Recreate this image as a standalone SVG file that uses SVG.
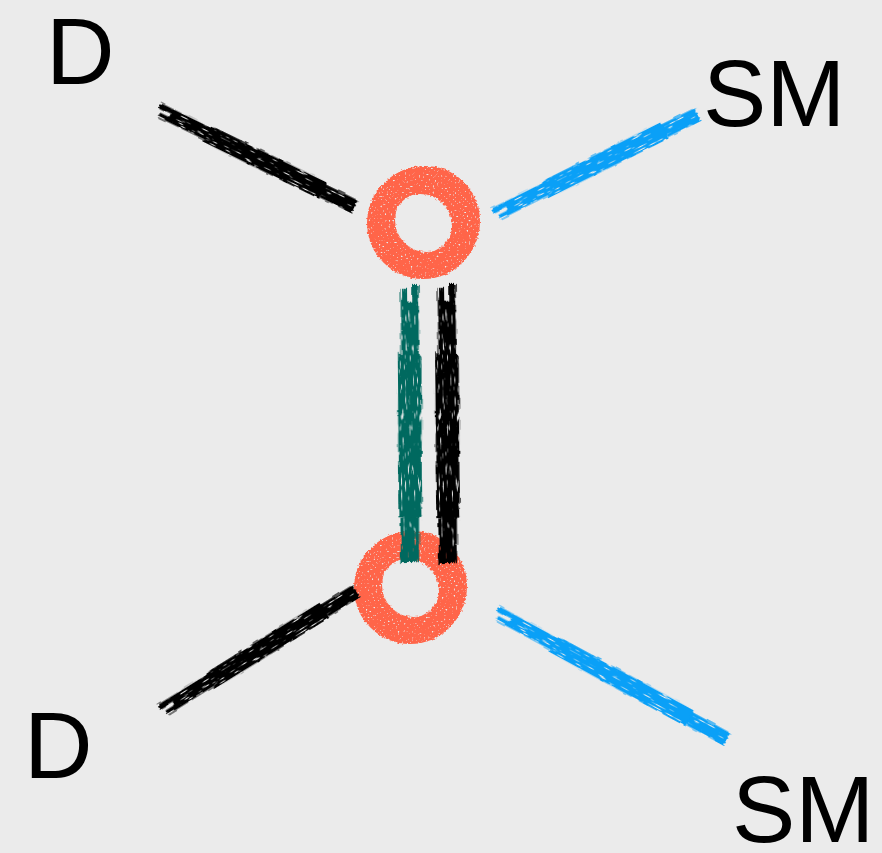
<svg xmlns="http://www.w3.org/2000/svg" xmlns:xlink="http://www.w3.org/1999/xlink" width="882" height="853" viewBox="0 0 882 853">
  <style>
    .label { font-family: "Liberation Sans", Arial, sans-serif; font-size: 95px; fill: #000; }
    .blk { color: #000; }
    .sm { color: #0aa0f7; }
    .teal { color: #00695f; }
  </style>
  <defs>
    <!-- grainy dry-brush texture for straight strokes (noise is stretched along the stroke) -->
    <filter id="grain" x="-10%" y="-250%" width="120%" height="600%" color-interpolation-filters="sRGB">
      <feTurbulence type="fractalNoise" baseFrequency="0.2 0.7" numOctaves="2" seed="4" result="noise"/>
      <feDisplacementMap in="SourceGraphic" in2="noise" scale="3" xChannelSelector="R" yChannelSelector="G" result="rough"/>
      <feColorMatrix in="noise" type="matrix" values="0 0 0 0 0  0 0 0 0 0  0 0 0 0 0  7 0 0 0 -1.6" result="mask"/>
      <feComposite in="rough" in2="mask" operator="in"/>
    </filter>
    <!-- grainy texture for the rings -->
    <filter id="grainRing" x="-20%" y="-20%" width="140%" height="140%" color-interpolation-filters="sRGB">
      <feTurbulence type="fractalNoise" baseFrequency="0.5" numOctaves="2" seed="9" result="noise"/>
      <feDisplacementMap in="SourceGraphic" in2="noise" scale="4" xChannelSelector="R" yChannelSelector="G" result="rough"/>
      <feColorMatrix in="noise" type="matrix" values="0 0 0 0 0  0 0 0 0 0  0 0 0 0 0  7 0 0 0 -1.5" result="mask"/>
      <feComposite in="rough" in2="mask" operator="in"/>
    </filter>
    <!-- one brush stroke, 100 units long along +x, centred on y=0 -->
    <g id="brush" fill="none" stroke="currentColor">
      <path d="M0,-5 L100,-3" stroke-width="5"/>
      <path d="M1,4 L100,4" stroke-width="5"/>
      <path d="M6,-1 L100,1" stroke-width="11"/>
      <path d="M25,0 L84,1" stroke-width="18"/>
      <path d="M84,2 L100,2" stroke-width="13"/>
    </g>
    <!-- a hand-drawn ring, centred on 0,0 -->
    <g id="ring" fill="none" stroke="#ff6549">
      <circle cx="0" cy="1" r="43" stroke-width="26"/>
      <circle cx="2" cy="-1" r="49" stroke-width="12"/>
      <circle cx="-3" cy="4" r="38" stroke-width="12"/>
      <circle cx="4" cy="-2" r="35" stroke-width="6"/>
    </g>
  </defs>

  <rect width="882" height="853" fill="#ebebeb"/>

  <g id="node-top">
    <use xlink:href="#ring" href="#ring" x="423" y="222" filter="url(#grainRing)"/>
  </g>
  <g id="node-bottom">
    <use xlink:href="#ring" href="#ring" x="410" y="587" filter="url(#grainRing)"/>
  </g>

  <g id="connectors">
    <use id="d-top" class="blk" xlink:href="#brush" href="#brush" filter="url(#grain)" transform="translate(158,110) rotate(25.75) scale(2.19,1)"/>
    <use id="sm-top" class="sm" xlink:href="#brush" href="#brush" filter="url(#grain)" transform="translate(495,215) rotate(-26.8) scale(2.26,1)"/>
    <use id="d-bottom" class="blk" xlink:href="#brush" href="#brush" filter="url(#grain)" transform="translate(162,711) rotate(-32.1) scale(2.28,1)"/>
    <use id="sm-bottom" class="sm" xlink:href="#brush" href="#brush" filter="url(#grain)" transform="translate(496,613) rotate(28.3) scale(2.63,1)"/>
    <use id="link-teal" class="teal" xlink:href="#brush" href="#brush" filter="url(#grain)" transform="translate(409,285) rotate(89.4) scale(2.77,1.3)"/>
    <use id="link-black" class="blk" xlink:href="#brush" href="#brush" filter="url(#grain)" transform="translate(446,284) rotate(89.2) scale(2.79,1.3)"/>
  </g>

  <g id="labels">
    <text class="label" x="46" y="84">D</text>
    <text class="label" x="703" y="126">SM</text>
    <text class="label" x="24" y="778">D</text>
    <text class="label" x="732" y="842">SM</text>
  </g>
</svg>
